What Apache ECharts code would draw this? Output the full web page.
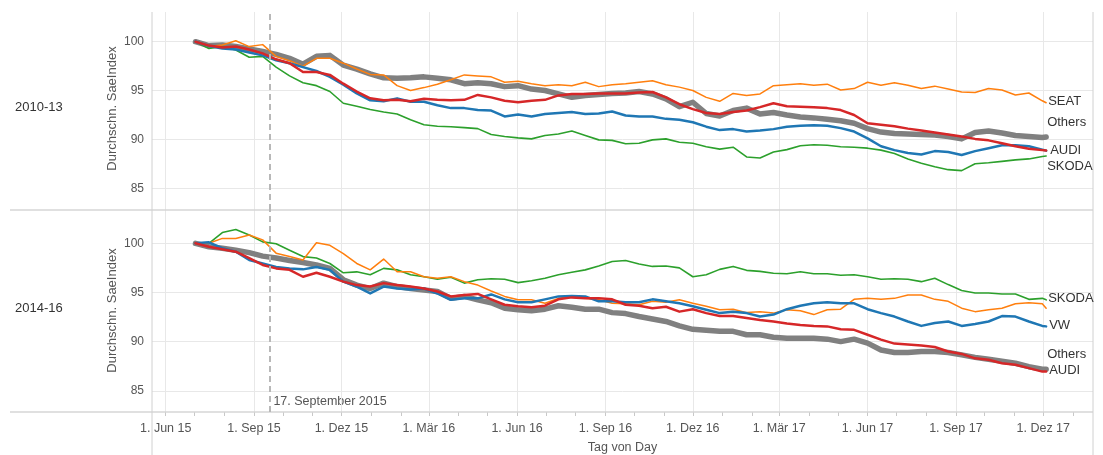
<!DOCTYPE html>
<html><head><meta charset="utf-8">
<script src="https://cdn.jsdelivr.net/npm/echarts@6/dist/echarts.min.js"></script>
<style>html,body{margin:0;padding:0;background:#fff}#c{width:1103px;height:455px}</style>
</head><body><div id="c"></div>
<script>
const dates = ['2015-07-02','2015-07-16','2015-07-30','2015-08-13','2015-08-27','2015-09-10','2015-09-24','2015-10-08','2015-10-22','2015-11-05','2015-11-19','2015-12-03','2015-12-17','2015-12-31',
'2016-01-14','2016-01-28','2016-02-11','2016-02-25','2016-03-10','2016-03-24','2016-04-07','2016-04-21','2016-05-05','2016-05-19','2016-06-02','2016-06-16','2016-06-30','2016-07-14','2016-07-28','2016-08-11','2016-08-25','2016-09-08','2016-09-22','2016-10-06','2016-10-20','2016-11-03','2016-11-17','2016-12-01','2016-12-15','2016-12-29',
'2017-01-12','2017-01-26','2017-02-09','2017-02-23','2017-03-09','2017-03-23','2017-04-06','2017-04-20','2017-05-04','2017-05-18','2017-06-01','2017-06-15','2017-06-29','2017-07-13','2017-07-27','2017-08-10','2017-08-24','2017-09-07','2017-09-21','2017-10-05','2017-10-19','2017-11-02','2017-11-16','2017-11-30','2017-12-04'];

// Panel 2010-13
const vw1013 = [100,99.55,99.3,99.2,98.9,98.6,98.1,97.8,97.4,97.0,96.4,95.6,94.7,94.0,93.9,94.2,93.85,93.85,93.5,93.2,93.2,93.0,92.95,
92.35,92.55,92.35,92.6,92.7,92.8,92.6,92.65,92.85,92.45,92.35,92.35,92.1,92.0,91.75,91.3,90.95,91.05,90.8,90.9,91.05,91.3,
91.4,91.45,91.4,91.15,90.8,90.1,89.3,88.9,88.6,88.45,88.8,88.7,88.4,88.8,89.1,89.4,89.4,89.3,88.95,88.85];
const audi1013 = [100,99.6,99.4,99.5,99.2,98.8,98.2,97.8,96.9,96.9,96.6,95.7,94.9,94.2,94.0,94.05,93.9,94.15,94.05,94.0,94.05,94.55,94.3,
93.95,93.8,93.95,94.05,94.5,94.65,94.65,94.7,94.7,94.7,94.8,94.85,94.3,93.6,93.1,92.7,92.6,92.8,92.95,93.3,93.7,93.4,
93.35,93.3,93.2,93.0,92.5,91.65,91.5,91.35,91.1,90.9,90.7,90.5,90.3,90.05,89.9,89.6,89.3,89.05,88.9,88.85];
const seat1013 = [100,99.5,99.66,100.1,99.5,99.7,98.5,98.05,97.5,98.3,98.3,97.8,97.2,96.65,96.6,95.5,95.0,95.3,95.65,96.1,96.6,96.5,96.4,
95.85,95.95,95.7,95.5,95.6,95.5,95.85,95.4,95.6,95.7,95.85,96.0,95.6,95.35,95.0,94.3,93.9,94.7,94.5,94.65,95.5,95.6,
95.7,95.55,95.65,95.05,95.2,95.85,95.55,95.8,95.55,95.2,95.45,95.15,94.85,94.8,95.2,95.05,94.55,94.75,93.95,93.75];
const skoda1013 = [100,99.3,99.5,99.15,98.4,98.5,97.4,96.5,95.8,95.5,94.9,93.7,93.4,93.05,92.8,92.6,92.0,91.5,91.35,91.3,91.2,91.1,90.5,
90.3,90.15,90.05,90.4,90.55,90.85,90.4,89.95,89.9,89.55,89.6,89.95,90.05,89.7,89.6,89.25,89.0,89.2,88.2,88.1,88.7,88.95,
89.35,89.45,89.4,89.25,89.2,89.1,88.9,88.55,88.0,87.55,87.2,86.9,86.8,87.5,87.6,87.75,87.9,88.0,88.25,88.3];
const others1013 = [100,99.6,99.66,99.5,99.25,99.0,98.7,98.3,97.7,98.5,98.6,97.6,97.2,96.7,96.3,96.25,96.3,96.4,96.25,96.1,95.7,95.8,95.7,
95.4,95.5,95.15,95.0,94.65,94.3,94.5,94.6,94.7,94.75,94.9,94.65,94.15,93.35,93.8,92.65,92.4,92.95,93.2,92.6,92.75,92.5,
92.3,92.2,92.05,91.9,91.65,91.1,90.75,90.6,90.55,90.5,90.45,90.3,90.05,90.7,90.85,90.65,90.4,90.3,90.2,90.25];

// Panel 2014-16
const vw1416 = [100,100.1,99.5,99.15,98.3,97.95,97.6,97.45,97.35,97.6,97.3,96.1,95.6,94.9,95.6,95.4,95.3,95.4,94.9,94.25,94.4,94.4,94.8,
94.3,94.0,94.0,94.3,94.6,94.65,94.6,94.1,94.1,94.0,94.0,94.3,94.1,93.9,93.6,93.25,92.9,93.05,92.9,92.55,92.75,93.3,
93.65,93.9,94.0,93.9,93.9,93.3,92.9,92.55,92.05,91.6,91.9,92.05,91.6,91.8,92.05,92.6,92.55,92.05,91.6,91.55];
const audi1416 = [100,99.65,99.4,99.15,98.5,97.8,97.45,97.3,96.6,97.0,96.6,96.1,95.75,95.6,95.95,95.75,95.6,95.4,95.1,94.6,94.75,94.85,94.3,
93.75,93.6,93.5,93.65,94.3,94.5,94.4,94.4,94.3,93.75,93.65,93.4,93.55,93.05,93.3,92.9,92.6,92.6,92.4,92.2,92.05,91.85,
91.7,91.6,91.55,91.25,91.2,90.7,90.2,89.8,89.7,89.6,89.45,89.0,88.75,88.3,88.15,87.8,87.65,87.3,86.95,86.95];
const seat1416 = [100,100.0,100.5,100.5,100.85,100.35,99.0,98.65,98.3,100.05,99.8,98.95,97.95,97.3,98.4,97.1,97.1,96.6,96.45,96.6,96.1,95.75,95.15,
94.6,94.25,94.25,93.9,94.4,94.65,94.4,94.25,93.9,93.85,93.75,94.1,94.0,94.25,93.9,93.6,93.25,93.3,92.95,93.05,92.9,93.25,
93.15,92.75,93.25,93.3,94.3,94.4,94.3,94.4,94.75,94.75,94.3,94.1,93.4,93.05,93.25,93.4,93.85,93.95,93.85,93.4];
const skoda1416 = [100,100.0,101.1,101.4,100.85,100.15,99.95,99.3,98.65,98.5,97.95,97.0,97.1,96.8,97.45,97.3,96.8,96.6,96.35,96.55,95.95,96.3,96.4,
96.35,96.0,96.2,96.45,96.8,97.05,97.3,97.7,98.15,98.25,97.9,97.65,97.7,97.5,96.6,96.8,97.35,97.65,97.25,97.15,96.95,96.9,
97.1,96.9,96.9,96.75,96.8,96.6,96.35,96.4,96.35,96.1,96.45,95.8,95.2,94.95,94.95,94.85,94.85,94.3,94.4,94.25];
const others1416 = [100,99.65,99.5,99.3,99.05,98.7,98.5,98.25,98.05,97.8,97.45,96.3,95.75,95.4,95.95,95.6,95.4,95.25,95.1,94.4,94.6,94.25,93.95,
93.4,93.25,93.15,93.3,93.65,93.5,93.3,93.3,92.95,92.85,92.55,92.3,92.05,91.6,91.25,91.15,91.05,91.05,90.7,90.7,90.45,90.35,
90.35,90.35,90.25,90.0,90.25,89.85,89.15,88.9,88.9,89.0,89.0,88.9,88.65,88.4,88.2,88.0,87.8,87.45,87.2,87.2];

const yTicks = [85, 90, 95, 100];
const quarterTicks = ['2015-06-01','2015-09-01','2015-12-01','2016-03-01','2016-06-01','2016-09-01','2016-12-01','2017-03-01','2017-06-01','2017-09-01','2017-12-01'];
const monthTicks = ['2015-06-01','2015-07-01','2015-08-01','2015-09-01','2015-10-01','2015-11-01','2015-12-01','2016-01-01','2016-02-01','2016-03-01','2016-04-01','2016-05-01','2016-06-01','2016-07-01','2016-08-01','2016-09-01','2016-10-01','2016-11-01','2016-12-01','2017-01-01','2017-02-01','2017-03-01','2017-04-01','2017-05-01','2017-06-01','2017-07-01','2017-08-01','2017-09-01','2017-10-01','2017-11-01','2017-12-01','2018-01-01'];
const monthNames = ['Jan','Feb','Mär','Apr','Mai','Jun','Jul','Aug','Sep','Okt','Nov','Dez'];
const refDate = '2015-09-17';
const refLabel = '17. September 2015';
const rowLabels = ['2010-13', '2014-16'];
const yName = 'Durchschn. SaeIndex';
const xName = 'Tag von Day';

function ts(s){ const p = s.split('-').map(Number); return new Date(p[0], p[1]-1, p[2]).getTime(); }
const DAY = 86400000;
const xMin = ts('2015-06-01') - 14.27*DAY;
const xMax = ts('2017-12-01') + 51.8*DAY;
const FONT = 'Liberation Sans, Arial, sans-serif';

const styles = {
  VW:{color:'#1f77b4', width:2.5},
  AUDI:{color:'#d62728', width:2.5},
  SEAT:{color:'#ff7f0e', width:1.5},
  SKODA:{color:'#2ca02c', width:1.6},
  Others:{color:'#808080', width:5.5}
};
const panels = [
  {data:{Others:others1013, SKODA:skoda1013, SEAT:seat1013, VW:vw1013, AUDI:audi1013},
   labels:{SEAT:[-3,-1.5], Others:[-4,-15], AUDI:[-1,0], SKODA:[-4,10]}},
  {data:{Others:others1416, SKODA:skoda1416, SEAT:seat1416, VW:vw1416, AUDI:audi1416},
   labels:{SKODA:[-3,-1.5], VW:[-2,-1], Others:[-4,-14.5], AUDI:[-2,-1]}}
];

const series = [];
panels.forEach((p, gi) => {
  Object.keys(p.data).forEach(name => {
    const s = {
      type:'line', name:name, xAxisIndex:gi, yAxisIndex:gi,
      data: dates.map((d,i)=>[ts(d), p.data[name][i]]),
      showSymbol:false, symbol:'none', smooth:false,
      lineStyle:{color:styles[name].color, width:styles[name].width, cap:'round', join:'round'},
      itemStyle:{color:styles[name].color},
      silent:true
    };
    if (p.labels[name]) {
      s.endLabel = {show:true, formatter:name, offset:p.labels[name], distance:5,
        color:'#333', fontSize:13, fontFamily:FONT};
    }
    if (name === 'Others') {
      s.markLine = {silent:true, symbol:['none','none'], label:{show:false},
        lineStyle:{type:[6,4], color:'#b8b8b8', width:2},
        data:[{xAxis: ts(refDate)}]};
    }
    series.push(s);
  });
});

const gridCommon = {left:152, right:10, outerBoundsMode:'none', containLabel:false};
const xGridAxis = (gi, pos) => ({
  type:'value', gridIndex:gi, position:pos, min:xMin, max:xMax,
  axisLine:{show:false}, axisLabel:{show:false},
  axisTick:{show:false, customValues: quarterTicks.map(ts)},
  splitLine:{show:true, lineStyle:{color:'#e8e8e8', width:1}}
});
const yAxisCfg = (gi, mn, mx) => ({
  type:'value', gridIndex:gi, min:mn, max:mx,
  axisLine:{show:false},
  axisTick:{show:false, customValues:yTicks},
  axisLabel:{customValues:yTicks, color:'#555', fontSize:12, margin:8, fontFamily:FONT},
  splitLine:{show:true, lineStyle:{color:'#e8e8e8', width:1}}
});

const chart = echarts.init(document.getElementById('c'), null, {renderer:'canvas'});
const baseGraphics = [
  {type:'line', id:'sep1', shape:{x1:10, y1:210, x2:1093, y2:210}, style:{stroke:'#d6d6d6', lineWidth:1.5}, z:1},
  {type:'line', id:'sep2', shape:{x1:10, y1:412, x2:1093, y2:412}, style:{stroke:'#d6d6d6', lineWidth:1.5}, z:1},
  {type:'line', id:'vl', shape:{x1:152, y1:12, x2:152, y2:455}, style:{stroke:'#d0d0d0', lineWidth:1}, z:1},
  {type:'line', id:'vr', shape:{x1:1093, y1:12, x2:1093, y2:455}, style:{stroke:'#d0d0d0', lineWidth:1}, z:1},
  {type:'text', id:'r1', left:15, top:101, style:{text:rowLabels[0], fill:'#333', fontSize:13, fontFamily:FONT}},
  {type:'text', id:'r2', left:15, top:302, style:{text:rowLabels[1], fill:'#333', fontSize:13, fontFamily:FONT}},
  {type:'text', id:'yn1', x:112, y:108.5, rotation:Math.PI/2,
   style:{text:yName, fill:'#555', fontSize:13, fontFamily:FONT, align:'center', verticalAlign:'middle'}},
  {type:'text', id:'yn2', x:112, y:310.5, rotation:Math.PI/2,
   style:{text:yName, fill:'#555', fontSize:13, fontFamily:FONT, align:'center', verticalAlign:'middle'}}
];
chart.setOption({
  animation:false,
  textStyle:{fontFamily:FONT},
  grid:[Object.assign({top:12, height:198}, gridCommon), Object.assign({top:210, height:202}, gridCommon)],
  xAxis:[
    xGridAxis(0, 'bottom'),
    xGridAxis(1, 'top'),
    {type:'value', gridIndex:1, position:'bottom', min:xMin, max:xMax,
     axisLine:{show:false},
     axisTick:{show:true, inside:false, length:4, customValues:monthTicks.map(ts), lineStyle:{color:'#c8c8c8'}},
     axisLabel:{show:true, customValues:quarterTicks.map(ts), color:'#555', fontSize:12.5, margin:10, fontFamily:FONT,
       hideOverlap:false, showMinLabel:true, showMaxLabel:true,
       formatter:(v)=>{const d=new Date(v); return '1. '+monthNames[d.getMonth()]+' '+String(d.getFullYear()).slice(2);}},
     splitLine:{show:false},
     name:xName, nameLocation:'middle', nameGap:29,
     nameTextStyle:{color:'#555', fontSize:12.5, fontFamily:FONT}}
  ],
  yAxis:[yAxisCfg(0, 82.77, 103.04), yAxisCfg(1, 82.84, 103.39)],
  series:series,
  graphic:baseGraphics
});
const rx = chart.convertToPixel({xAxisIndex:1}, ts(refDate));
chart.setOption({graphic: baseGraphics.concat([
  {type:'text', id:'ref', left: rx + 4, top: 395, style:{text:refLabel, fill:'#555', fontSize:12.5, fontFamily:FONT}}
])});
</script></body></html>
